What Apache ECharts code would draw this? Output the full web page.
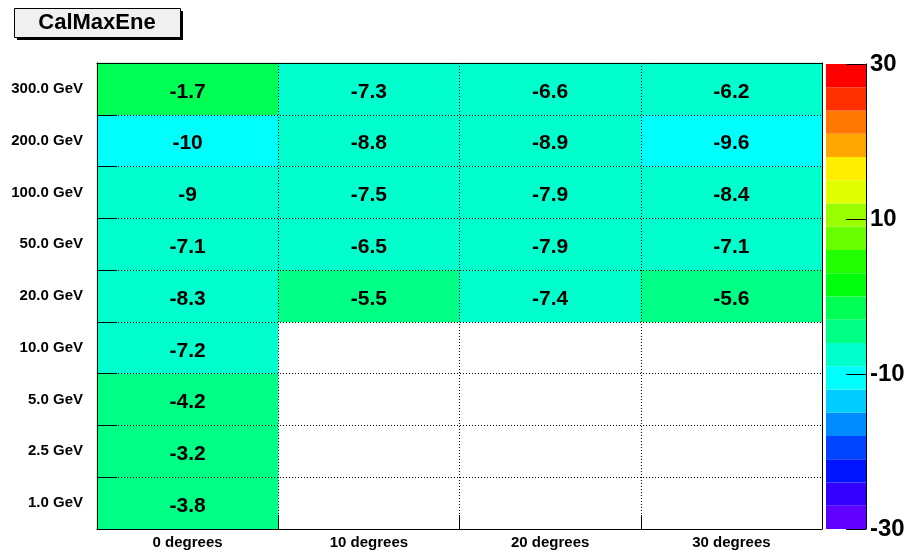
<!DOCTYPE html>
<html>
<head>
<meta charset="utf-8">
<script src="https://cdn.jsdelivr.net/npm/echarts@6/dist/echarts.min.js"></script>
<style>
  html, body { margin: 0; padding: 0; background: #fff; }
  #chart { width: 909px; height: 554px; }
</style>
</head>
<body>
<div id="chart"></div>
<script>
// categories
const angles = ['0 degrees', '10 degrees', '20 degrees', '30 degrees'];
const energies = ['1.0 GeV', '2.5 GeV', '5.0 GeV', '10.0 GeV', '20.0 GeV', '50.0 GeV', '100.0 GeV', '200.0 GeV', '300.0 GeV'];

// values per energy row, one entry per angle (null = empty bin)
const row300 = [-1.7, -7.3, -6.6, -6.2];
const row200 = [-10, -8.8, -8.9, -9.6];
const row100 = [-9, -7.5, -7.9, -8.4];
const row50 = [-7.1, -6.5, -7.9, -7.1];
const row20 = [-8.3, -5.5, -7.4, -5.6];
const row10 = [-7.2, null, null, null];
const row5 = [-4.2, null, null, null];
const row2p5 = [-3.2, null, null, null];
const row1 = [-3.8, null, null, null];

// colour scale: band edges and colours, bottom to top
const paletteMin = -30;
const paletteMax = 30;
const paletteTicks = 20;
const bandEdges = [-30, -27, -24, -21, -18, -15, -12, -9, -6, -3, 0, 3, 6, 9, 12, 15, 18, 21, 24, 27, 30];
const bandColors = [
  '#6200ff', '#3300ff', '#0014ff', '#0044ff', '#008bff',
  '#00ccff', '#00fffc', '#00ffcc', '#00ff85', '#00ff55',
  '#00ff0e', '#22ff00', '#69ff00', '#99ff00', '#e0ff00',
  '#ffee00', '#ffa700', '#ff7700', '#ff3000', '#ff0000'
];

const rows = [row1, row2p5, row5, row10, row20, row50, row100, row200, row300];
const cells = [];
rows.forEach((row, yi) => {
  row.forEach((v, xi) => {
    if (v !== null) cells.push([xi, yi, v]);
  });
});

const pieces = bandColors.map((c, i) => ({ gte: bandEdges[i], lt: bandEdges[i + 1], color: c }));
const bands = bandColors.map((c, i) => ({ value: [0, bandEdges[i], bandEdges[i + 1]], itemStyle: { color: c } }));

const font = 'Liberation Sans, Arial, Helvetica, sans-serif';

const chart = echarts.init(document.getElementById('chart'), null, { renderer: 'canvas' });

chart.setOption({
  animation: false,
  backgroundColor: '#fff',
  graphic: [
    { type: 'rect', shape: { x: 17, y: 11, width: 166, height: 29 }, style: { fill: '#000' } },
    { type: 'rect', shape: { x: 14.5, y: 8.5, width: 166, height: 29 }, style: { fill: '#f0f0f0', stroke: '#000', lineWidth: 1 } },
    {
      type: 'text', x: 97, y: 23,
      style: { text: 'CalMaxEne', font: 'bold 22px ' + font, fill: '#000', align: 'center', verticalAlign: 'middle' }
    }
  ],
  grid: [
    { left: 97, top: 63, width: 725, height: 466 },
    { left: 826, top: 64, width: 40, height: 465 }
  ],
  xAxis: [
    {
      gridIndex: 0, type: 'category', data: angles, z: 5,
      axisLine: { show: true, lineStyle: { color: '#000', width: 1 } },
      axisTick: { show: true, inside: true, length: 14, lineStyle: { color: '#000' } },
      axisLabel: { color: '#000', fontFamily: font, fontWeight: 'bold', fontSize: 15, margin: 6 },
      splitLine: { show: true, lineStyle: { color: '#000', type: [1, 2], width: 1 } }
    },
    {
      gridIndex: 0, type: 'category', data: angles, position: 'top', z: 5,
      axisLine: { show: true, lineStyle: { color: '#000', width: 1 } },
      axisTick: { show: false }, axisLabel: { show: false }, splitLine: { show: false }
    },
    {
      gridIndex: 1, type: 'category', data: ['z'], show: false
    }
  ],
  yAxis: [
    {
      gridIndex: 0, type: 'category', data: energies, z: 5,
      axisLine: { show: true, lineStyle: { color: '#000', width: 1 } },
      axisTick: { show: true, inside: true, length: 20, lineStyle: { color: '#000' } },
      axisLabel: { color: '#000', fontFamily: font, fontWeight: 'bold', fontSize: 15, margin: 14 },
      splitLine: { show: true, lineStyle: { color: '#000', type: [1, 2], width: 1 } }
    },
    {
      gridIndex: 0, type: 'category', data: energies, position: 'right', z: 5,
      axisLine: { show: true, lineStyle: { color: '#000', width: 1 } },
      axisTick: { show: false }, axisLabel: { show: false }, splitLine: { show: false }
    },
    {
      gridIndex: 1, type: 'value', position: 'right', z: 5,
      min: paletteMin, max: paletteMax, interval: paletteTicks,
      axisLine: { show: true, lineStyle: { color: '#000', width: 1 } },
      axisTick: { show: true, inside: true, length: 20, lineStyle: { color: '#000' } },
      axisLabel: { color: '#000', fontFamily: font, fontWeight: 'bold', fontSize: 24, margin: 4 },
      splitLine: { show: false }
    }
  ],
  visualMap: {
    type: 'piecewise', show: false, dimension: 2, seriesIndex: 0,
    pieces: pieces
  },
  series: [
    {
      type: 'heatmap', xAxisIndex: 0, yAxisIndex: 0,
      data: cells,
      label: {
        show: true, color: '#000', fontFamily: font, fontWeight: 'bold', fontSize: 21, offset: [0, 3],
        formatter: p => String(p.value[2])
      },
      emphasis: { disabled: true }
    },
    {
      type: 'custom', xAxisIndex: 2, yAxisIndex: 2,
      data: bands,
      renderItem: (params, api) => {
        const top = api.coord([0, api.value(2)]);
        const bot = api.coord([0, api.value(1)]);
        const w = api.size([1, 0])[0];
        return {
          type: 'rect',
          shape: { x: top[0] - w / 2, y: top[1], width: w, height: bot[1] - top[1] },
          style: { fill: api.visual('color') }
        };
      }
    }
  ]
});
</script>
</body>
</html>
